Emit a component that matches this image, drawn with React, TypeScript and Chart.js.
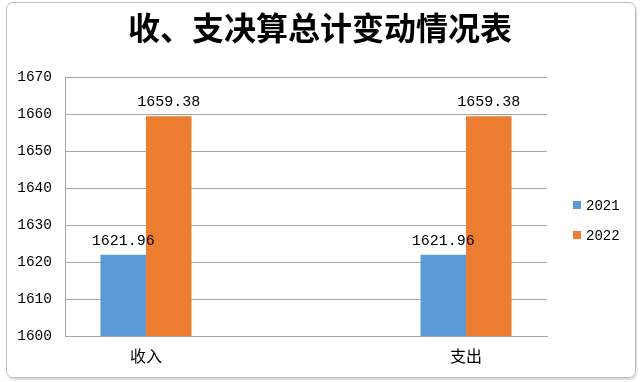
import React, { useEffect, useRef } from "react";
import { Chart, registerables } from "chart.js";

Chart.register(...registerables);

const TITLE = "收、支决算总计变动情况表";
const categories = ["收入", "支出"];
const seriesNames = ["2021", "2022"];
const values2021 = [1621.96, 1621.96];
const values2022 = [1659.38, 1659.38];
const colors = ["#5B9BD5", "#ED7D31"];
const yMin = 1600;
const yMax = 1670;
const yStep = 10;

const monoFont = "'Liberation Mono', 'DejaVu Sans Mono', monospace";
const cjkFont = "'Noto Sans CJK SC', 'Noto Sans', sans-serif";

const dataLabelPlugin = {
  id: "dataLabels",
  afterDatasetsDraw(chart: any) {
    const ctx = chart.ctx;
    ctx.save();
    ctx.font = `15px ${monoFont}`;
    ctx.fillStyle = "#000";
    ctx.textAlign = "center";
    ctx.textBaseline = "alphabetic";
    chart.data.datasets.forEach((ds: any, di: number) => {
      const meta = chart.getDatasetMeta(di);
      meta.data.forEach((el: any, i: number) => {
        const v = ds.data[i].y;
        ctx.fillText(v.toFixed(2), el.x, el.y - 10);
      });
    });
    ctx.restore();
  },
};

const sideLegendPlugin = {
  id: "sideLegend",
  afterDraw(chart: any) {
    const ctx = chart.ctx;
    const area = chart.chartArea;
    ctx.save();
    ctx.font = `14px ${monoFont}`;
    ctx.textAlign = "left";
    ctx.textBaseline = "middle";
    chart.data.datasets.forEach((ds: any, i: number) => {
      const cy = 205 + i * 30;
      const x = area.right + 26;
      ctx.fillStyle = ds.backgroundColor;
      ctx.fillRect(x, cy - 4, 8, 8);
      ctx.fillStyle = "#000";
      ctx.fillText(ds.label, x + 13, cy + 1);
    });
    ctx.restore();
  },
};

export default function App() {
  const ref = useRef<HTMLCanvasElement | null>(null);

  useEffect(() => {
    if (!ref.current) return;
    const series = [values2021, values2022];
    const chart = new Chart(ref.current, {
      type: "bar",
      data: {
        datasets: series.map((vals, si) => ({
          label: seriesNames[si],
          data: vals.map((v, i) => ({ x: i, y: v })),
          backgroundColor: colors[si],
          borderWidth: 0,
          barPercentage: 1,
          categoryPercentage: 91 / 320,
        })),
      },
      options: {
        responsive: false,
        animation: false,
        layout: { padding: { left: 0, right: 0, top: 0, bottom: 0 } },
        plugins: {
          legend: { display: false },
          tooltip: { enabled: false },
          title: {
            display: true,
            text: TITLE,
            color: "#000",
            font: { family: cjkFont, size: 32, weight: "bold", lineHeight: 1.2 },
            padding: { top: 9, bottom: 29.6 },
          },
        },
        scales: {
          x: {
            type: "linear",
            offset: false,
            min: -0.253,
            max: 1.253,
            afterBuildTicks: (scale: any) => {
              scale.ticks = categories.map((_, i) => ({ value: i }));
            },
            afterFit: (scale: any) => {
              scale.height = 46;
            },
            ticks: {
              autoSkip: false,
              maxRotation: 0,
              padding: 10,
              color: "#000",
              font: { family: cjkFont, size: 16 },
              callback: (v: any) => categories[v] ?? "",
            },
            grid: { display: false, drawTicks: false, offset: false },
            border: { display: true, color: "#a6a6a6", width: 1 },
          },
          y: {
            type: "linear",
            min: yMin,
            max: yMax,
            afterFit: (scale: any) => {
              scale.width = 65;
            },
            ticks: {
              stepSize: yStep,
              padding: 13,
              color: "#000",
              font: { family: monoFont, size: 14.5 },
              callback: (v: any) => String(v),
            },
            grid: { color: "#a6a6a6", drawTicks: false, lineWidth: 1 },
            border: { display: true, color: "#a6a6a6", width: 1 },
          },
          yRight: {
            type: "linear",
            position: "right",
            display: true,
            afterFit: (scale: any) => {
              scale.width = 93;
            },
            ticks: { display: false },
            grid: { display: false, drawTicks: false },
            border: { display: false },
          },
        },
      },
      plugins: [dataLabelPlugin, sideLegendPlugin],
    } as any);
    return () => chart.destroy();
  }, []);

  return (
    <div style={{ position: "fixed", left: 0, top: 0, width: 640, height: 382, background: "#fff" }}>
      <canvas ref={ref} width={640} height={382} style={{ position: "absolute", left: 0, top: 0 }} />
      <div
        style={{
          position: "absolute",
          left: 6,
          top: 2,
          width: 630,
          height: 376,
          boxSizing: "border-box",
          border: "1px solid #bdbdbd",
          borderRadius: 7,
          boxShadow: "1px 2px 2px rgba(0,0,0,0.15)",
          pointerEvents: "none",
        }}
      />
    </div>
  );
}
